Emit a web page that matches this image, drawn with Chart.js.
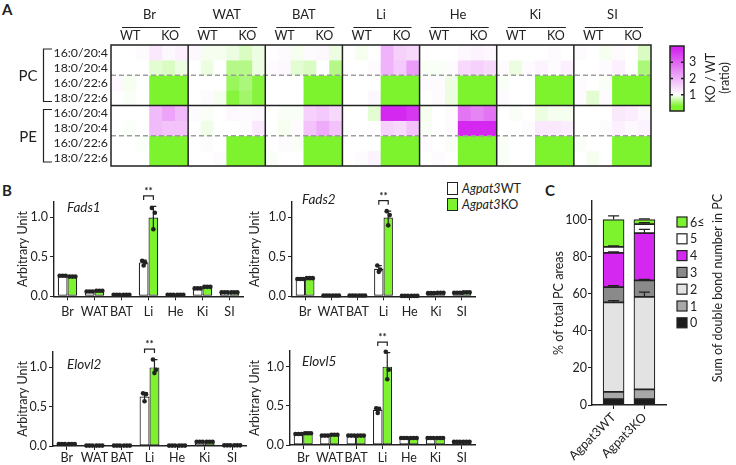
<!DOCTYPE html>
<html>
<head>
<meta charset="utf-8">
<script src="https://cdn.jsdelivr.net/npm/chart.js@4"></script>
<style>
body { margin: 0; width: 736px; height: 465px; position: relative; background: #fff; overflow: hidden; font-family: Lato, sans-serif; color: #222; }
canvas { position: absolute; }
.tag { position: absolute; font-weight: bold; font-size: 15px; }
.leg { position: absolute; left: 447px; font-size: 12.5px; line-height: 14px; white-space: nowrap; }
.leg span { display: inline-block; width: 9px; height: 11px; border: 1.2px solid #222; vertical-align: -2px; margin-right: 4px; }
</style>
</head>
<body>
<div class="tag" style="left:2px;top:0px">A</div>
<div class="tag" style="left:2px;top:181px">B</div>
<div class="tag" style="left:545px;top:181px">C</div>
<div class="leg" style="top:182px"><span style="background:#fff"></span><i>Agpat3</i>WT</div>
<div class="leg" style="top:198px"><span style="background:#7df32e"></span><i>Agpat3</i>KO</div>

<canvas id="heat" width="736" height="180" style="left:0;top:0"></canvas>
<canvas id="fads1" width="245" height="145" style="left:0;top:180px"></canvas>
<canvas id="fads2" width="250" height="145" style="left:240px;top:180px"></canvas>
<canvas id="elovl2" width="250" height="140" style="left:0;top:325px"></canvas>
<canvas id="elovl5" width="250" height="140" style="left:240px;top:325px"></canvas>
<canvas id="bonds" width="236" height="285" style="left:500px;top:180px"></canvas>

<script>
Chart.defaults.font.family = 'Lato';
Chart.defaults.font.size = 12;
Chart.defaults.color = '#222';

// ---- panel A: KO / WT ratio, 8 species x (7 tissues x 3 WT + 3 KO)
const tissues = ['Br', 'WAT', 'BAT', 'Li', 'He', 'Ki', 'SI'];
const species = ['16:0/20:4', '18:0/20:4', '16:0/22:6', '18:0/22:6'];
const classes = ['PC', 'PE'];
const ratioRows = [
    // PC 16:0/20:4
    [1.0, 1.0, 1.05, 1.3, 1.1, 1.2,   1.1, 0.95, 0.95, 0.9, 0.8, 0.9,   1.0, 1.05, 0.95, 1.05, 1.1, 0.9,
     1.0, 0.95, 1.0, 2.0, 1.6, 1.5,   1.0, 1.0, 1.0, 1.1, 1.15, 1.1,    1.0, 1.0, 1.0, 1.0, 1.05, 1.0,   1.05, 1.0, 0.95, 1.05, 1.0, 0.8],
    // PC 18:0/20:4
    [1.0, 1.0, 1.0, 0.85, 0.8, 0.9,   1.0, 0.9, 1.0, 0.6, 0.6, 0.9,     1.05, 1.1, 0.85, 0.8, 1.0, 0.6,
     1.0, 1.0, 1.05, 2.0, 1.7, 2.3,   0.97, 0.97, 1.05, 1.5, 1.6, 1.5,  1.05, 0.9, 1.05, 1.15, 1.05, 1.2, 1.0, 1.0, 1.05, 1.2, 1.0, 0.55],
    // PC 16:0/22:6
    [1.1, 0.95, 1.0, 0.1, 0.1, 0.1,   1.0, 1.0, 1.0, 0.45, 0.55, 0.35,  1.0, 1.0, 1.0, 0.1, 0.1, 0.1,
     1.0, 1.0, 1.0, 0.1, 0.1, 0.1,    1.05, 1.05, 0.9, 0.1, 0.1, 0.1,   0.97, 1.0, 1.0, 0.1, 0.1, 0.1,   1.05, 1.0, 0.97, 0.1, 0.1, 0.3],
    // PC 18:0/22:6
    [1.0, 0.97, 1.0, 0.1, 0.1, 0.1,   1.0, 1.05, 0.95, 0.35, 0.5, 0.35, 1.0, 1.0, 1.0, 0.1, 0.1, 0.1,
     1.0, 1.0, 1.1, 0.1, 0.1, 0.1,    1.0, 1.05, 0.9, 0.1, 0.1, 0.1,    1.05, 1.0, 1.0, 0.1, 0.1, 0.1,   1.05, 0.85, 1.05, 0.1, 0.1, 0.3],
    // PE 16:0/20:4
    [1.0, 1.0, 1.0, 1.9, 2.2, 1.9,    1.05, 0.97, 1.0, 1.1, 1.05, 1.1,  1.0, 0.97, 0.97, 1.6, 1.7, 1.5,
     1.0, 1.0, 0.85, 3.8, 3.8, 3.6,   0.95, 1.0, 1.05, 2.8, 2.6, 2.8,   1.0, 0.97, 1.0, 0.9, 0.95, 0.95, 1.0, 1.0, 1.0, 1.3, 1.25, 1.1],
    // PE 18:0/20:4
    [1.0, 0.98, 1.0, 1.9, 1.8, 1.8,   1.0, 0.92, 1.0, 1.0, 1.05, 1.3,   1.0, 0.95, 1.05, 1.8, 2.1, 1.8,
     1.0, 1.0, 1.0, 1.6, 1.5, 1.8,    0.97, 1.0, 1.05, 3.9, 3.9, 3.9,   1.0, 1.0, 1.05, 1.3, 1.3, 1.25,  1.0, 1.0, 1.05, 1.2, 1.1, 1.15],
    // PE 16:0/22:6
    [1.0, 1.0, 0.98, 0.1, 0.1, 0.1,   1.0, 1.05, 1.0, 0.1, 0.1, 0.1,    1.0, 1.05, 0.97, 0.1, 0.1, 0.1,
     1.0, 1.0, 1.0, 0.1, 0.1, 0.1,    1.05, 1.0, 0.97, 0.1, 0.1, 0.1,   0.97, 1.0, 1.0, 0.1, 0.1, 0.1,   0.97, 1.0, 1.0, 0.1, 0.1, 0.1],
    // PE 18:0/22:6
    [1.0, 1.0, 1.0, 0.1, 0.1, 0.1,    1.0, 1.0, 1.05, 0.1, 0.1, 0.1,    0.97, 1.0, 1.0, 0.1, 0.1, 0.1,
     1.0, 1.05, 1.15, 0.1, 0.1, 0.1,  1.0, 1.05, 1.0, 0.1, 0.1, 0.1,    0.97, 1.0, 1.0, 0.1, 0.1, 0.1,   1.0, 0.95, 1.0, 0.1, 0.1, 0.1]
];
const ratioTicks = [1, 2, 3];

// ---- panel B: relative expression
const organs = ['Br', 'WAT', 'BAT', 'Li', 'He', 'Ki', 'SI'];
const fads1WT = [0.26, 0.06, 0.02, 0.43, 0.02, 0.10, 0.05];
const fads1KO = [0.25, 0.07, 0.02, 1.00, 0.02, 0.12, 0.05];
const fads1WTsd = [0.01, 0.01, 0.005, 0.03, 0.005, 0.01, 0.005];
const fads1KOsd = [0.01, 0.01, 0.005, 0.14, 0.005, 0.01, 0.01];
const fads1LiWT = [0.45, 0.43, 0.39];
const fads1LiKO = [1.12, 1.06, 0.85];

const fads2WT = [0.22, 0.01, 0.01, 0.35, 0.005, 0.04, 0.045];
const fads2KO = [0.23, 0.01, 0.01, 1.00, 0.005, 0.045, 0.05];
const fads2WTsd = [0.01, 0.003, 0.003, 0.04, 0.002, 0.005, 0.005];
const fads2KOsd = [0.01, 0.003, 0.003, 0.08, 0.002, 0.005, 0.005];
const fads2LiWT = [0.39, 0.34, 0.31];
const fads2LiKO = [1.08, 1.03, 0.90];

const elovl2WT = [0.025, 0.005, 0.005, 0.63, 0.005, 0.055, 0.008];
const elovl2KO = [0.025, 0.005, 0.005, 1.00, 0.005, 0.055, 0.008];
const elovl2WTsd = [0.005, 0.002, 0.002, 0.05, 0.002, 0.005, 0.002];
const elovl2KOsd = [0.005, 0.002, 0.002, 0.10, 0.002, 0.005, 0.002];
const elovl2LiWT = [0.67, 0.66, 0.57];
const elovl2LiKO = [1.10, 0.97, 0.93];

const elovl5WT = [0.14, 0.12, 0.12, 0.45, 0.09, 0.09, 0.04];
const elovl5KO = [0.15, 0.13, 0.12, 1.00, 0.09, 0.09, 0.04];
const elovl5WTsd = [0.01, 0.01, 0.01, 0.03, 0.005, 0.005, 0.005];
const elovl5KOsd = [0.01, 0.01, 0.01, 0.18, 0.005, 0.005, 0.005];
const elovl5LiWT = [0.47, 0.46, 0.41];
const elovl5LiKO = [1.19, 0.96, 0.84];
const unitTicks = [0, 0.5, 1.0];

// ---- panel C: double bond number in PC (% of total)
const genotypes = ['Agpat3WT', 'Agpat3KO'];
const bondLabels = ['0', '1', '2', '3', '4', '5', '6≤'];
const bondWT = [3.2, 3.9, 48.2, 8.3, 18.4, 3.2, 14.8];
const bondKO = [3.2, 5.2, 49.9, 8.9, 25.5, 4.8, 2.5];
const bondWTsd = [0.3, 0.3, 1.0, 0.8, 0.6, 0.6, 2.0];
const bondKOsd = [0.3, 0.3, 2.6, 0.5, 2.0, 0.8, 0.4];
const percentTicks = [0, 20, 40, 60, 80, 100];

const green = [125, 243, 46];
const magenta = [212, 40, 240];
const bondColors = ['#1c1c1c', '#a8a8a8', '#e3e3e3', '#8a8a8a', '#d428f0', '#ffffff', '#7df32e'];
const ink = '#222';

function ratioColor(v) {
    let c, t;
    if (v < 1) { c = green; t = Math.min(1, (1 - v) / 0.7); }
    else { c = magenta; t = Math.min(1, (v - 1) / 2.8); }
    const m = c.map(k => Math.round(255 + (k - 255) * t));
    return 'rgb(' + m.join(',') + ')';
}

function paddingFor(canvas, area, yw, xh) {
    const L = parseFloat(canvas.style.left), T = parseFloat(canvas.style.top);
    return {
        left: area.l - L - yw,
        top: area.t - T,
        right: L + canvas.width - area.r,
        bottom: T + canvas.height - area.b - xh
    };
}

// ---------------- heatmap
const heatColumns = [];
tissues.forEach(t => ['WT', 'WT', 'WT', 'KO', 'KO', 'KO'].forEach(g => heatColumns.push(t + ' ' + g)));

const heatPlugin = {
    id: 'heatExtras',
    afterDraw(chart) {
        const ctx = chart.ctx, a = chart.chartArea;
        const cw = (a.right - a.left) / heatColumns.length;
        const rh = (a.bottom - a.top) / ratioRows.length;
        ctx.save();
        ctx.strokeStyle = '#9c9c9c';
        ctx.lineWidth = 1.3;
        ctx.setLineDash([5, 3]);
        [2, 6].forEach(r => {
            ctx.beginPath();
            ctx.moveTo(a.left, a.top + r * rh);
            ctx.lineTo(a.right, a.top + r * rh);
            ctx.stroke();
        });
        ctx.setLineDash([]);
        ctx.strokeStyle = ink;
        ctx.lineWidth = 1.5;
        ctx.strokeRect(a.left, a.top, a.right - a.left, a.bottom - a.top);
        ctx.beginPath();
        for (let t = 1; t < tissues.length; t++) {
            ctx.moveTo(a.left + t * 6 * cw, a.top);
            ctx.lineTo(a.left + t * 6 * cw, a.bottom);
        }
        ctx.moveTo(a.left, a.top + 4 * rh);
        ctx.lineTo(a.right, a.top + 4 * rh);
        ctx.stroke();

        // column headers
        ctx.fillStyle = ink;
        ctx.textAlign = 'center';
        ctx.textBaseline = 'middle';
        ctx.lineWidth = 1.2;
        tissues.forEach((t, i) => {
            const x0 = a.left + i * 6 * cw;
            ctx.font = '13px Lato';
            ctx.fillText(t, x0 + 3 * cw, 15);
            ctx.beginPath();
            ctx.moveTo(x0 + 11, 27.5);
            ctx.lineTo(x0 + 6 * cw - 8, 27.5);
            ctx.stroke();
            ctx.font = '12.5px Lato';
            ctx.fillText('WT', x0 + 1.5 * cw, 36);
            ctx.fillText('KO', x0 + 4.6 * cw, 36);
        });

        // row labels and brackets
        ctx.textAlign = 'right';
        ctx.font = '12.3px Lato';
        ratioRows.forEach((r, i) => ctx.fillText(species[i % 4], a.left - 3, a.top + (i + 0.5) * rh));
        ctx.textAlign = 'center';
        ctx.font = '15px Lato';
        classes.forEach((c, k) => {
            const y0 = a.top + k * 4 * rh + 4, y1 = a.top + (k + 1) * 4 * rh - 4;
            ctx.beginPath();
            ctx.moveTo(52, y0); ctx.lineTo(43.5, y0); ctx.lineTo(43.5, y1); ctx.lineTo(52, y1);
            ctx.stroke();
            ctx.fillText(c, 28, (y0 + y1) / 2 + 1);
        });

        // colour bar 0..4
        const bx = 670, bw = 14, by0 = 111, by1 = 46;
        const grad = ctx.createLinearGradient(0, by0, 0, by1);
        for (let k = 0; k <= 40; k++) grad.addColorStop(k / 40, ratioColor(k / 10));
        ctx.fillStyle = grad;
        ctx.fillRect(bx, by1, bw, by0 - by1);
        ctx.strokeStyle = ink;
        ctx.lineWidth = 1.5;
        ctx.strokeRect(bx, by1, bw, by0 - by1);
        ctx.fillStyle = ink;
        ctx.font = '12.5px Lato';
        ctx.textAlign = 'left';
        ratioTicks.forEach(v => {
            const y = by0 - (by0 - by1) * v / 4;
            ctx.beginPath();
            ctx.moveTo(bx, y); ctx.lineTo(bx + 3, y);
            ctx.moveTo(bx + bw, y); ctx.lineTo(bx + bw - 3, y);
            ctx.stroke();
            ctx.fillText(String(v), bx + bw + 5, y);
        });
        ctx.textAlign = 'center';
        ctx.translate(711, 78);
        ctx.rotate(-Math.PI / 2);
        ctx.fillText('KO / WT', 0, 0);
        ctx.fillText('(ratio)', 0, 14);
        ctx.restore();
    }
};

const heatCanvas = document.getElementById('heat');
new Chart(heatCanvas, {
    type: 'bar',
    data: {
        labels: heatColumns,
        datasets: ratioRows.map((row, i) => ({
            label: classes[Math.floor(i / 4)] + ' ' + species[i % 4],
            data: row.map(() => 1),
            backgroundColor: row.map(ratioColor),
            borderWidth: 0,
            barPercentage: 1,
            categoryPercentage: 1
        }))
    },
    options: {
        responsive: false,
        animation: false,
        layout: { padding: paddingFor(heatCanvas, { l: 111, t: 45, r: 651, b: 166 }, 0, 0) },
        plugins: { legend: { display: false }, tooltip: { enabled: false } },
        scales: {
            x: { display: false, stacked: true },
            y: { display: false, stacked: true, min: 0, max: 8, reverse: true }
        }
    },
    plugins: [heatPlugin]
});

// ---------------- gene bar charts
function geneChart(id, g) {
    const canvas = document.getElementById(id);
    const li = organs.indexOf('Li');
    const extras = {
        id: 'geneExtras',
        afterDatasetsDraw(chart) {
            const ctx = chart.ctx, ys = chart.scales.y, a = chart.chartArea;
            const metas = [chart.getDatasetMeta(0), chart.getDatasetMeta(1)];
            const groups = [[g.wt, g.wtSd, g.liWt], [g.ko, g.koSd, g.liKo]];
            ctx.save();
            ctx.strokeStyle = ink;
            ctx.fillStyle = ink;
            ctx.lineWidth = 1.2;
            metas.forEach((meta, k) => {
                const [means, sds, reps] = groups[k];
                meta.data.forEach((bar, i) => {
                    const x = bar.x;
                    const yt = ys.getPixelForValue(means[i] + sds[i]);
                    const yb = ys.getPixelForValue(Math.max(0, means[i] - sds[i]));
                    ctx.beginPath();
                    ctx.moveTo(x, yb); ctx.lineTo(x, yt);
                    ctx.moveTo(x - 3, yt); ctx.lineTo(x + 3, yt);
                    ctx.stroke();
                    const pts = i === li ? reps : [means[i], means[i], means[i]];
                    const dx = i === li ? [-1.5, 1.5, 0] : [-3, 0, 3];
                    pts.forEach((v, j) => {
                        ctx.beginPath();
                        ctx.arc(x + dx[j], ys.getPixelForValue(v), 2.3, 0, Math.PI * 2);
                        ctx.fill();
                    });
                });
            });
            const xa = metas[0].data[li].x, xb = metas[1].data[li].x;
            const top = ys.getPixelForValue(g.ko[li] + g.koSd[li]) - 10.5;
            ctx.beginPath();
            ctx.moveTo(xa, top + 4); ctx.lineTo(xa, top); ctx.lineTo(xb, top); ctx.lineTo(xb, top + 4);
            ctx.stroke();
            ctx.textAlign = 'center';
            ctx.textBaseline = 'middle';
            ctx.font = 'bold 10px Lato';
            ctx.fillText('**', (xa + xb) / 2, top - 5);
            ctx.textAlign = 'left';
            ctx.font = 'italic 13.5px Lato';
            ctx.fillText(g.name, a.left + g.tx, a.top + g.ty);
            ctx.restore();
        }
    };
    new Chart(canvas, {
        type: 'bar',
        data: {
            labels: organs,
            datasets: [
                { label: 'Agpat3WT', data: g.wt, backgroundColor: '#ffffff' },
                { label: 'Agpat3KO', data: g.ko, backgroundColor: '#7df32e' }
            ]
        },
        options: {
            responsive: false,
            animation: false,
            layout: { padding: paddingFor(canvas, g.area, g.yw, g.xh) },
            datasets: { bar: { borderColor: ink, borderWidth: 1.2, borderSkipped: false, barPercentage: 1, categoryPercentage: 0.72 } },
            plugins: { legend: { display: false }, tooltip: { enabled: false } },
            scales: {
                x: {
                    grid: { display: true, drawOnChartArea: false, offset: false, tickLength: 4, color: ink },
                    border: { color: ink, width: 1.4 },
                    ticks: { autoSkip: false, maxRotation: 0, padding: g.xpad, font: { size: 12.5 } },
                    afterFit: s => { s.height = g.xh; s.paddingLeft = 0; s.paddingRight = 0; }
                },
                y: {
                    min: 0, max: 1.2,
                    grid: { display: true, drawOnChartArea: false, tickLength: 4, color: ink },
                    border: { color: ink, width: 1.4 },
                    ticks: { padding: 2, font: { size: 12.5 }, callback: v => v.toFixed(1) },
                    afterBuildTicks: s => { s.ticks = unitTicks.map(v => ({ value: v })); },
                    title: { display: true, text: 'Arbitrary Unit', font: { size: 12.5 }, padding: { top: 0, bottom: 2 } },
                    afterFit: s => { s.width = g.yw; }
                }
            }
        },
        plugins: [extras]
    });
}

geneChart('fads1', { name: 'Fads1', wt: fads1WT, ko: fads1KO, wtSd: fads1WTsd, koSd: fads1KOsd, liWt: fads1LiWT, liKo: fads1LiKO,
    area: { l: 54, t: 201.7, r: 243, b: 296.3 }, yw: 39, xh: 24, tx: 13, ty: 5.5, xpad: 4 });
geneChart('fads2', { name: 'Fads2', wt: fads2WT, ko: fads2KO, wtSd: fads2WTsd, koSd: fads2KOsd, liWt: fads2LiWT, liKo: fads2LiKO,
    area: { l: 292, t: 201.7, r: 475, b: 296.3 }, yw: 45, xh: 24, tx: 10, ty: -2.5, xpad: 4 });
geneChart('elovl2', { name: 'Elovl2', wt: elovl2WT, ko: elovl2KO, wtSd: elovl2WTsd, koSd: elovl2KOsd, liWt: elovl2LiWT, liKo: elovl2LiKO,
    area: { l: 53, t: 351.7, r: 246, b: 446 }, yw: 38, xh: 19, tx: 14, ty: 13, xpad: 0 });
geneChart('elovl5', { name: 'Elovl5', wt: elovl5WT, ko: elovl5KO, wtSd: elovl5WTsd, koSd: elovl5KOsd, liWt: elovl5LiWT, liKo: elovl5LiKO,
    area: { l: 290, t: 351, r: 475, b: 445 }, yw: 43, xh: 20, tx: 12, ty: 11, xpad: 1 });

// ---------------- panel C stacked bars
const bondCanvas = document.getElementById('bonds');
const bondExtras = {
    id: 'bondExtras',
    afterDatasetsDraw(chart) {
        const ctx = chart.ctx, xs = chart.scales.x, ys = chart.scales.y;
        ctx.save();
        ctx.strokeStyle = ink;
        ctx.fillStyle = ink;
        ctx.lineWidth = 1.2;
        [[bondWT, bondWTsd], [bondKO, bondKOsd]].forEach(([vals, sds], gi) => {
            const x = xs.getPixelForValue(gi);
            let cum = 0;
            vals.forEach((v, i) => {
                cum += v;
                if (sds[i] < 0.4) return;
                const y0 = ys.getPixelForValue(cum), y1 = ys.getPixelForValue(cum + sds[i]);
                ctx.beginPath();
                ctx.moveTo(x, y0); ctx.lineTo(x, y1);
                ctx.moveTo(x - 5.5, y1); ctx.lineTo(x + 5.5, y1);
                ctx.stroke();
            });
        });
        // legend, 6≤ on top
        ctx.font = '12.5px Lato';
        ctx.textBaseline = 'middle';
        ctx.textAlign = 'left';
        for (let i = bondLabels.length - 1, row = 0; i >= 0; i--, row++) {
            const y = 222 + row * 16.8 - 180;
            ctx.fillStyle = bondColors[i];
            ctx.fillRect(177, y - 5, 10, 10);
            ctx.strokeRect(177, y - 5, 10, 10);
            ctx.fillStyle = ink;
            ctx.fillText(bondLabels[i], 190, y + 0.5);
        }
        ctx.textAlign = 'center';
        ctx.translate(218, 108);
        ctx.rotate(-Math.PI / 2);
        ctx.fillText('Sum of double bond number in PC', 0, 0);
        ctx.restore();
    }
};

new Chart(bondCanvas, {
    type: 'bar',
    data: {
        datasets: bondLabels.map((lab, i) => ({
            label: lab,
            data: [{ x: 0, y: bondWT[i] }, { x: 1, y: bondKO[i] }],
            backgroundColor: bondColors[i],
            borderColor: ink,
            borderWidth: 1.2,
            borderSkipped: false,
            barThickness: 21
        }))
    },
    options: {
        responsive: false,
        animation: false,
        layout: { padding: paddingFor(bondCanvas, { l: 592, t: 201, r: 666, b: 405 }, 41, 60) },
        plugins: { legend: { display: false }, tooltip: { enabled: false } },
        scales: {
            x: {
                type: 'linear', min: -0.7, max: 1.7, stacked: true, offset: false,
                grid: { display: true, drawOnChartArea: false, offset: false, tickLength: 4, color: ink },
                border: { color: ink, width: 1.4 },
                afterBuildTicks: s => { s.ticks = genotypes.map((g, i) => ({ value: i })); },
                ticks: { minRotation: 45, maxRotation: 45, padding: 1, font: { size: 12.5 }, callback: v => genotypes[v] },
                afterFit: s => { s.height = 60; s.paddingLeft = 0; s.paddingRight = 0; }
            },
            y: {
                min: 0, max: 110, stacked: true,
                grid: { display: true, drawOnChartArea: false, tickLength: 4, color: ink },
                border: { color: ink, width: 1.4 },
                afterBuildTicks: s => { s.ticks = percentTicks.map(v => ({ value: v })); },
                ticks: { padding: 1, font: { size: 12.5 } },
                title: { display: true, text: '% of total PC areas', font: { size: 12.5 }, padding: { top: 0, bottom: 2 } },
                afterFit: s => { s.width = 41; }
            }
        }
    },
    plugins: [bondExtras]
});
</script>
</body>
</html>
